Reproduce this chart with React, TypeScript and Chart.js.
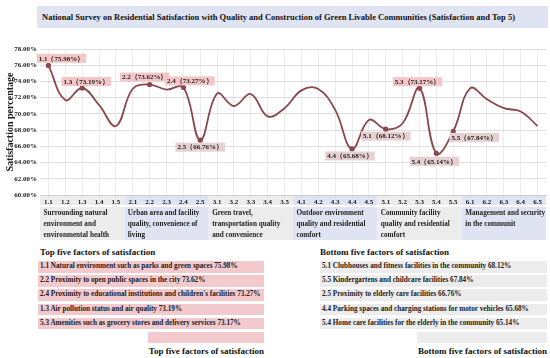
import React, { useEffect, useRef } from 'react';
import { Chart, registerables } from 'chart.js';

Chart.register(...registerables);

const categories = [
  '1.1', '1.2', '1.3', '1.4', '1.5',
  '2.1', '2.2', '2.3', '2.4', '2.5',
  '3.1', '3.2', '3.3', '3.4', '3.5',
  '4.1', '4.2', '4.3', '4.4', '4.5',
  '5.1', '5.2', '5.3', '5.4', '5.5',
  '6.1', '6.2', '6.3', '6.4', '6.5',
];

const satisfaction = [
  75.98, 71.7, 73.19, 71.1, 68.5,
  73.1, 73.62, 73.0, 73.27, 66.76,
  72.5, 70.97, 72.45, 69.7, 70.7,
  72.9, 73.07, 70.5, 65.68, 69.25,
  68.12, 68.84, 73.17, 65.14, 67.84,
  73.15, 71.8, 70.7, 70.3, 68.5,
];

const groupNames = [
  ['Surrounding natural', 'environment and', 'environmental health'],
  ['Urban area and facility', 'quality, convenience of', 'living'],
  ['Green travel,', 'transportation quality', 'and convenience'],
  ['Outdoor environment', 'quality and residential', 'comfort'],
  ['Community facility', 'quality and residential', 'comfort'],
  ['Management and security', 'in the communit'],
];

const yTickValues = [60, 62, 64, 66, 68, 70, 72, 74, 76, 78];

const topCodes = ['1.1', '2.2', '2.4', '1.3', '5.3'];
const topNames = [
  'Natural environment such as parks and green spaces',
  'Proximity to open public spaces in the city',
  "Proximity to educational institutions and children's facilities",
  'Air pollution status and air quality',
  'Amenities such as grocery stores and delivery services',
];

const bottomCodes = ['5.1', '5.5', '2.5', '4.4', '5.4'];
const bottomNames = [
  'Clubhouses and fitness facilities in the community',
  'Kindergartens and childcare facilities',
  'Proximity to elderly care facilities',
  'Parking spaces and charging stations for motor vehicles',
  'Home care facilities for the elderly in the community',
];

const title =
  'National Survey on Residential Satisfaction with Quality and Construction of Green Livable Communities (Satisfaction and Top 5)';
const topTitle = 'Top five factors of satisfaction';
const bottomTitle = 'Bottom five factors of satisfaction';

// label placement styling (dx, dy from point, in px)
const labelOffsets: Record<string, [number, number]> = {
  '1.1': [13, -7],
  '1.3': [4, -6.5],
  '2.2': [-5, -7.5],
  '2.4': [6.5, -6.5],
  '5.3': [-2, -6.5],
  '2.5': [0, 7],
  '4.4': [-2, 7],
  '5.1': [0, 7],
  '5.4': [-2, 8],
  '5.5': [21, 6],
};

const SERIF = '"Liberation Serif", "Times New Roman", serif';
const LINE = '#8a474d';
const PINK = '#f2c9cc';
const GRAY = '#ececec';
const LAVENDER = '#dfe3f2';
const LABEL_TOP_BG = '#f4c6c8';
const LABEL_BOTTOM_BG = '#e5d1d2';

const valueOf = (code: string) => satisfaction[categories.indexOf(code)];

const bandPlugin = {
  id: 'groupBands',
  beforeDraw(chart: any) {
    const { ctx, chartArea, scales } = chart;
    const x = scales.x;
    const step = x.getPixelForValue(1) - x.getPixelForValue(0);
    ctx.save();
    groupNames.forEach((_, gi) => {
      const start = x.getPixelForValue(gi * 5) - step / 2;
      const w = step * 5;
      ctx.fillStyle = gi % 2 === 0 ? GRAY : LAVENDER;
      ctx.fillRect(start, chartArea.bottom + 1, w, 9);
      ctx.fillRect(start, chartArea.bottom + 12, w, 33);
    });
    ctx.restore();
  },
  afterDraw(chart: any) {
    const { ctx, chartArea, scales } = chart;
    const x = scales.x;
    const step = x.getPixelForValue(1) - x.getPixelForValue(0);
    ctx.save();
    ctx.font = `bold 7.2px ${SERIF}`;
    ctx.fillStyle = '#222';
    ctx.textBaseline = 'middle';
    ctx.textAlign = 'left';
    groupNames.forEach((lines, gi) => {
      const start = x.getPixelForValue(gi * 5) - step / 2;
      lines.forEach((ln, li) => {
        ctx.fillText(ln, start + 3.5, chartArea.bottom + 18 + li * 11);
      });
    });
    ctx.restore();
  },
};

const labelPlugin = {
  id: 'pointLabels',
  afterDatasetsDraw(chart: any) {
    const { ctx } = chart;
    const meta = chart.getDatasetMeta(0);
    ctx.save();
    ctx.font = `bold 7px ${SERIF}`;
    ctx.textBaseline = 'middle';
    ctx.textAlign = 'center';
    const draw = (code: string, bg: string) => {
      const i = categories.indexOf(code);
      const pt = meta.data[i];
      const text = `${code}（${satisfaction[i].toFixed(2)}%）`;
      const [dx, dy] = labelOffsets[code] || [0, -7];
      const tw = ctx.measureText(text).width;
      const cx = pt.x + dx;
      const cy = pt.y + dy;
      ctx.fillStyle = bg;
      ctx.fillRect(cx - tw / 2 - 2, cy - 4.5, tw + 4, 9);
      ctx.fillStyle = '#222';
      ctx.fillText(text, cx, cy + 0.5);
    };
    topCodes.forEach((c) => draw(c, LABEL_TOP_BG));
    bottomCodes.forEach((c) => draw(c, LABEL_BOTTOM_BG));
    ctx.restore();
  },
};

function ChartCanvas() {
  const ref = useRef<HTMLCanvasElement | null>(null);
  useEffect(() => {
    if (!ref.current) return;
    const highlighted = [...topCodes, ...bottomCodes];
    const chart = new Chart(ref.current, {
      type: 'line',
      data: {
        labels: categories,
        datasets: [
          {
            data: satisfaction,
            borderColor: LINE,
            backgroundColor: LINE,
            borderWidth: 1.8,
            tension: 0.4,
            pointRadius: categories.map((c) => (highlighted.includes(c) ? 2.6 : 0)),
            pointBackgroundColor: LINE,
            pointBorderWidth: 0,
            fill: false,
          },
        ],
      },
      options: {
        animation: false,
        responsive: false,
        devicePixelRatio: 1,
        layout: { padding: { top: 13, right: 2, left: 0, bottom: 0 } },
        plugins: {
          legend: { display: false },
          tooltip: { enabled: false },
          title: { display: false },
        },
        scales: {
          x: {
            offset: true,
            afterFit: (scale: any) => {
              scale.height = 51;
            },
            grid: { color: '#ececec', tickLength: 2, tickColor: '#cfcfcf' },
            border: { color: '#d0d0d0' },
            ticks: {
              autoSkip: false,
              maxRotation: 0,
              padding: 1,
              color: '#222',
              font: { family: SERIF, size: 7, weight: 'bold' },
            },
          },
          y: {
            min: 60,
            max: 78,
            afterFit: (scale: any) => {
              scale.width = 40;
            },
            afterBuildTicks: (scale: any) => {
              const vals: number[] = [];
              for (let v = 60; v <= 78; v += 1) vals.push(v);
              scale.ticks = vals.map((v) => ({ value: v }));
            },
            grid: { color: '#dedede', tickLength: 0 },
            border: { display: false },
            title: {
              display: true,
              text: 'Satisfaction percentage',
              color: '#222',
              font: { family: SERIF, size: 10, weight: 'bold' },
              padding: { top: 4, bottom: 0 },
            },
            ticks: {
              padding: 3,
              color: '#222',
              font: { family: SERIF, size: 7, weight: 'bold' },
              callback: (v: any) => (yTickValues.includes(Number(v)) ? Number(v).toFixed(2) + '%' : ''),
            },
          },
        },
      },
      plugins: [bandPlugin, labelPlugin],
    } as any);
    return () => chart.destroy();
  }, []);
  return <canvas ref={ref} width={550} height={210} style={{ width: 550, height: 210, display: 'block' }} />;
}

const rowTop = (i: number) => 261 + i * 14.2;

export default function App() {
  const rowStyle = (left: number, width: number, top: number, bg: string): React.CSSProperties => ({
    position: 'absolute',
    left,
    top,
    width,
    height: 11.5,
    lineHeight: '11.5px',
    background: bg,
    fontFamily: SERIF,
    fontWeight: 'bold',
    fontSize: 7.2,
    color: '#222',
    paddingLeft: 2,
    boxSizing: 'border-box',
    whiteSpace: 'nowrap',
  });
  const headStyle = (left: number, top: number, width?: number, align: any = 'left'): React.CSSProperties => ({
    position: 'absolute',
    left,
    top,
    width,
    height: 12,
    lineHeight: '12px',
    fontFamily: SERIF,
    fontWeight: 'bold',
    fontSize: 9,
    color: '#111',
    textAlign: align,
    whiteSpace: 'nowrap',
  });
  return (
    <div style={{ position: 'absolute', left: 0, top: 0, width: 550, height: 358, background: '#fff', overflow: 'hidden' }}>
      <div
        style={{
          position: 'absolute',
          left: 37,
          top: 6,
          width: 511,
          height: 22,
          lineHeight: '22px',
          background: LAVENDER,
          fontFamily: SERIF,
          fontWeight: 'bold',
          fontSize: 8.5,
          color: '#111',
          paddingLeft: 5,
          boxSizing: 'border-box',
          whiteSpace: 'nowrap',
        }}
      >
        {title}
      </div>
      <div style={{ position: 'absolute', left: 0, top: 36 }}>
        <ChartCanvas />
      </div>
      <div style={headStyle(40, 246)}>{topTitle}</div>
      {topCodes.map((c, i) => (
        <div key={c} style={rowStyle(38, 226, rowTop(i), PINK)}>
          {`${c} ${topNames[i]} ${valueOf(c).toFixed(2)}%`}
        </div>
      ))}
      <div style={{ position: 'absolute', left: 148, top: rowTop(5), width: 116, height: 11, background: PINK }} />
      <div style={headStyle(0, 345, 264, 'right')}>{topTitle}</div>

      <div style={headStyle(320, 246)}>{bottomTitle}</div>
      {bottomCodes.map((c, i) => (
        <div key={c} style={rowStyle(320, 227, rowTop(i), GRAY)}>
          {`${c} ${bottomNames[i]} ${valueOf(c).toFixed(2)}%`}
        </div>
      ))}
      <div style={{ position: 'absolute', left: 417, top: rowTop(5), width: 130, height: 11, background: GRAY }} />
      <div style={headStyle(0, 345, 547, 'right')}>{bottomTitle}</div>
    </div>
  );
}
